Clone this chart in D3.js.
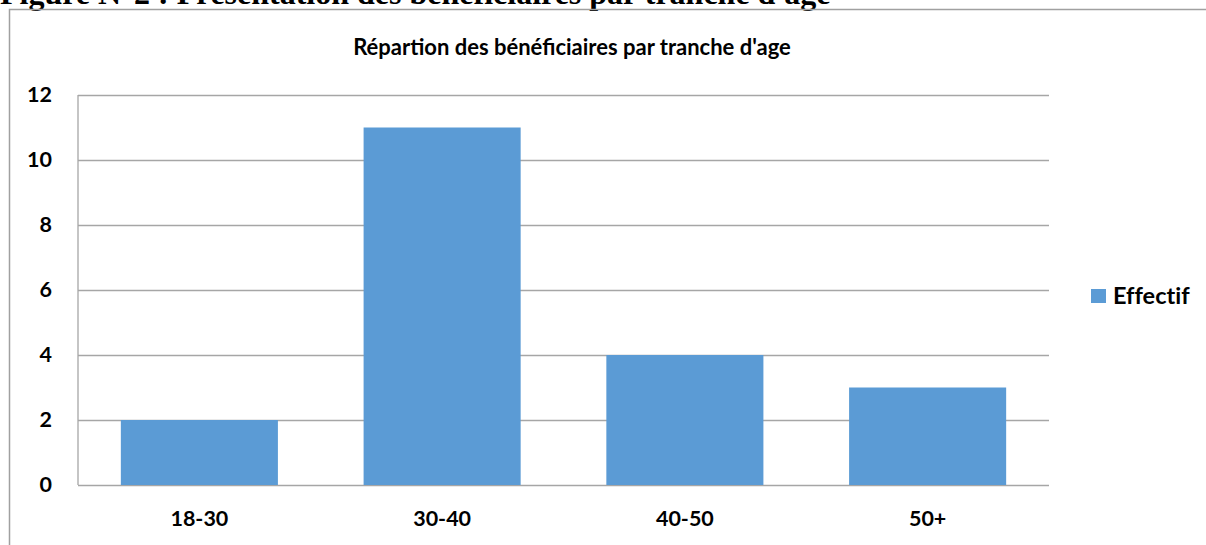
<!DOCTYPE html>
<html>
<head>
<meta charset="utf-8">
<script src="https://cdn.jsdelivr.net/npm/d3@7"></script>
<style>
  body { margin: 0; background: #fff; }
  svg { display: block; }
</style>
</head>
<body>
<svg id="chart"></svg>
<script>
// data
const categories = ["18-30", "30-40", "40-50", "50+"];
const effectif = [2, 11, 4, 3];
const yTicks = [0, 2, 4, 6, 8, 10, 12];
const seriesName = "Effectif";
const chartTitle = "Répartion des bénéficiaires par tranche d'age";
const figureCaption = "Figure N°2 : Présentation des bénéficiaires par tranche d'age";

const width = 1206;
const height = 545;
const plot = { left: 78, right: 1049, top: 95, bottom: 485 };
const barColor = "#5b9bd5";
const gridColor = "#a6a6a6";
const labelFont = "Lato, 'Open Sans', sans-serif";

const svg = d3.select("#chart").attr("width", width).attr("height", height);

// caption above the chart (clipped at the top in the original)
svg.append("text")
  .attr("x", 0)
  .attr("y", 4)
  .attr("font-family", "'Liberation Serif', 'Times New Roman', serif")
  .attr("font-weight", "bold")
  .attr("font-size", "32px")
  .attr("fill", "#000")
  .text(figureCaption);

// chart frame
svg.append("path")
  .attr("d", `M9.5,${height} V9.5 H${width}`)
  .attr("fill", "none")
  .attr("stroke", "#a0a0a0")
  .attr("stroke-width", 1.5);

// scales
const x = d3.scaleBand()
  .domain(categories)
  .range([plot.left, plot.right])
  .paddingInner(0.353)
  .paddingOuter(0.1765);

const y = d3.scaleLinear()
  .domain([0, 12])
  .range([plot.bottom, plot.top]);

// grid lines
svg.append("g")
  .attr("transform", `translate(${plot.left},0)`)
  .call(d3.axisLeft(y).tickValues(yTicks).tickSize(-(plot.right - plot.left)).tickFormat(""))
  .call(g => g.select(".domain").remove())
  .call(g => g.selectAll(".tick line").attr("stroke", gridColor).attr("stroke-width", 1.3));

// left axis line
svg.append("line")
  .attr("x1", plot.left).attr("x2", plot.left)
  .attr("y1", plot.top).attr("y2", plot.bottom)
  .attr("stroke", gridColor).attr("stroke-width", 1.3);

// bars
svg.selectAll(".bar")
  .data(effectif)
  .enter()
  .append("rect")
  .attr("class", "bar")
  .attr("x", (d, i) => x(categories[i]))
  .attr("y", d => y(d))
  .attr("width", x.bandwidth())
  .attr("height", d => y(0) - y(d))
  .attr("fill", barColor);

// y axis labels
svg.append("g")
  .attr("transform", `translate(${plot.left},0)`)
  .call(d3.axisLeft(y).tickValues(yTicks).tickSize(0).tickPadding(26))
  .call(g => g.select(".domain").remove())
  .call(g => g.selectAll("text")
    .attr("font-family", labelFont)
    .attr("font-weight", "bold")
    .attr("font-size", "21.5px")
    .attr("fill", "#000"));

// x axis labels
svg.append("g")
  .attr("transform", `translate(0,${plot.bottom})`)
  .call(d3.axisBottom(x).tickSize(0).tickPadding(26))
  .call(g => g.select(".domain").remove())
  .call(g => g.selectAll("text")
    .attr("font-family", labelFont)
    .attr("font-weight", "bold")
    .attr("font-size", "21.5px")
    .attr("fill", "#000"));

// title
svg.append("text")
  .attr("x", 572)
  .attr("y", 55)
  .attr("text-anchor", "middle")
  .attr("font-family", labelFont)
  .attr("font-weight", "bold")
  .attr("font-size", "22px")
  .attr("fill", "#000")
  .text(chartTitle);

// legend
const legend = svg.append("g").attr("transform", "translate(1091,289)");
legend.append("rect")
  .attr("width", 15).attr("height", 14)
  .attr("fill", barColor);
legend.append("text")
  .attr("x", 22)
  .attr("y", 14.5)
  .attr("font-family", labelFont)
  .attr("font-weight", "bold")
  .attr("font-size", "23.5px")
  .attr("fill", "#000")
  .style("font-variant-ligatures", "none")
  .text(seriesName);
</script>
</body>
</html>
